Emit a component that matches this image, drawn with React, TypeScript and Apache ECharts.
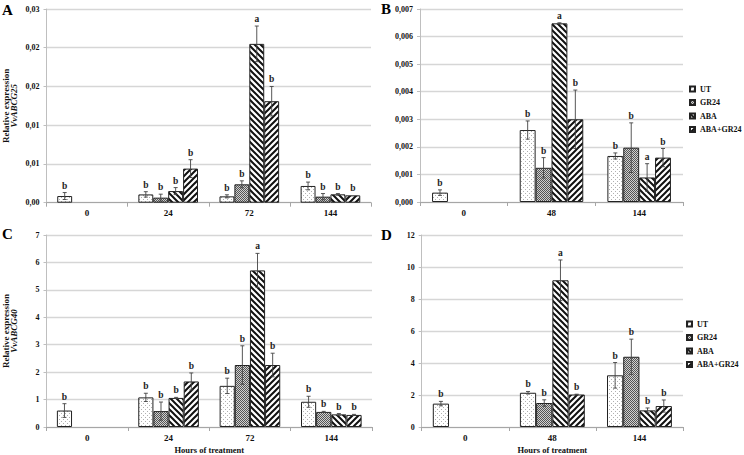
import React, { useEffect, useRef } from 'react';
import * as echarts from 'echarts';

const FONT = '"Liberation Serif", "Times New Roman", serif';
const SERIES_NAMES = ['UT', 'GR24', 'ABA', 'ABA+GR24'];

// Panel A: VvABCG25, 0/24/72/144 h
const A_CATS = ['0', '24', '72', '144'];
const A_TICKS = ['0,00', '0,01', '0,01', '0,02', '0,02', '0,03'];
const A_UT = [0.00086, 0.00107, 0.00082, 0.00216];
const A_GR24 = [null, 0.00065, 0.00237, 0.00078];
const A_ABA = [null, 0.0015, 0.0205, 0.00108];
const A_ABAGR = [null, 0.0044, 0.0131, 0.00095];
const A_UT_ERR = [0.00045, 0.00035, 0.0002, 0.0005];
const A_GR24_ERR = [0, 0.00045, 0.00045, 0.0004];
const A_ABA_ERR = [0, 0.00045, 0.0023, 0.0001];
const A_ABAGR_ERR = [0, 0.00115, 0.0019, 0];
const A_UT_SIG = ['b', 'b', 'b', 'b'];
const A_GR24_SIG = ['', 'b', 'b', 'b'];
const A_ABA_SIG = ['', 'b', 'a', 'b'];
const A_ABAGR_SIG = ['', 'b', 'b', 'b'];

// Panel B: 0/48/144 h
const B_CATS = ['0', '48', '144'];
const B_TICKS = ['0,000', '0,001', '0,002', '0,003', '0,004', '0,005', '0,006', '0,007'];
const B_UT = [0.00034, 0.00261, 0.00167];
const B_GR24 = [null, 0.00124, 0.00197];
const B_ABA = [null, 0.00648, 0.00089];
const B_ABAGR = [null, 0.003, 0.00161];
const B_UT_ERR = [0.0001, 0.00033, 0.00011];
const B_GR24_ERR = [0, 0.00037, 0.0009];
const B_ABA_ERR = [0, 0.00002, 0.0005];
const B_ABAGR_ERR = [0, 0.00106, 0.00033];
const B_UT_SIG = ['b', 'b', 'b'];
const B_GR24_SIG = ['', 'b', 'b'];
const B_ABA_SIG = ['', 'a', 'a'];
const B_ABAGR_SIG = ['', 'b', 'b'];

// Panel C: VvABCG40, 0/24/72/144 h
const C_CATS = ['0', '24', '72', '144'];
const C_TICKS = ['0', '1', '2', '3', '4', '5', '6', '7'];
const C_UT = [0.6, 1.08, 1.5, 0.92];
const C_GR24 = [null, 0.58, 2.26, 0.55];
const C_ABA = [null, 1.06, 5.71, 0.46];
const C_ABAGR = [null, 1.66, 2.26, 0.44];
const C_UT_ERR = [0.25, 0.15, 0.28, 0.2];
const C_GR24_ERR = [0, 0.33, 0.7, 0.02];
const C_ABA_ERR = [0, 0.02, 0.62, 0.03];
const C_ABAGR_ERR = [0, 0.31, 0.43, 0.02];
const C_UT_SIG = ['b', 'b', 'b', 'b'];
const C_GR24_SIG = ['', 'b', 'b', 'b'];
const C_ABA_SIG = ['', 'b', 'a', 'b'];
const C_ABAGR_SIG = ['', 'b', 'b', 'b'];

// Panel D: 0/48/144 h
const D_CATS = ['0', '48', '144'];
const D_TICKS = ['0', '2', '4', '6', '8', '10', '12'];
const D_UT = [1.46, 2.14, 3.23];
const D_GR24 = [null, 1.5, 4.39];
const D_ABA = [null, 9.17, 1.04];
const D_ABAGR = [null, 2.03, 1.31];
const D_UT_ERR = [0.14, 0.08, 0.8];
const D_GR24_ERR = [0, 0.2, 1.1];
const D_ABA_ERR = [0, 1.27, 0.15];
const D_ABAGR_ERR = [0, 0.02, 0.38];
const D_UT_SIG = ['b', 'b', 'b'];
const D_GR24_SIG = ['', 'b', 'b'];
const D_ABA_SIG = ['', 'a', 'b'];
const D_ABAGR_SIG = ['', 'b', 'b'];

function makeTile(kind: string): string {
  const c = document.createElement('canvas');
  const size = kind === 'dots' ? 4 : kind === 'checker' ? 2 : 6;
  c.width = size;
  c.height = size;
  const ctx = c.getContext('2d')!;
  if (kind === 'dots') {
    ctx.fillStyle = '#ffffff';
    ctx.fillRect(0, 0, 4, 4);
    ctx.fillStyle = '#b0b0b0';
    ctx.fillRect(1, 1, 1, 1);
    ctx.fillRect(3, 3, 1, 1);
  } else if (kind === 'checker') {
    ctx.fillStyle = '#d0d0d0';
    ctx.fillRect(0, 0, 2, 2);
    ctx.fillStyle = '#555555';
    ctx.fillRect(0, 0, 1, 1);
    ctx.fillRect(1, 1, 1, 1);
  } else {
    ctx.fillStyle = '#ffffff';
    ctx.fillRect(0, 0, 6, 6);
    ctx.strokeStyle = '#111111';
    ctx.lineWidth = 2;
    ctx.beginPath();
    const back = kind === 'back';
    for (let k = -1; k <= 1; k++) {
      if (back) {
        ctx.moveTo(k * 6 - 1, -1);
        ctx.lineTo(k * 6 + 7, 7);
      } else {
        ctx.moveTo(k * 6 - 1, 7);
        ctx.lineTo(k * 6 + 7, -1);
      }
    }
    ctx.stroke();
  }
  return c.toDataURL();
}

type Panel = {
  cats: string[];
  ticks: string[];
  max: number;
  interval: number;
  vals: (number | null)[][];
  errs: number[][];
  sigs: string[][];
  grid: { left: number; top: number; width: number; height: number };
  gap: string;
  gapFrac: number;
  yName?: string;
  xName?: string;
};

const PANELS: Panel[] = [
  {
    cats: A_CATS, ticks: A_TICKS, max: 0.025, interval: 0.005,
    vals: [A_UT, A_GR24, A_ABA, A_ABAGR],
    errs: [A_UT_ERR, A_GR24_ERR, A_ABA_ERR, A_ABAGR_ERR],
    sigs: [A_UT_SIG, A_GR24_SIG, A_ABA_SIG, A_ABAGR_SIG],
    grid: { left: 45, top: 9, width: 326, height: 193.7 },
    gap: '26.5%', gapFrac: 0.265, yName: 'VvABCG25',
  },
  {
    cats: B_CATS, ticks: B_TICKS, max: 0.007, interval: 0.001,
    vals: [B_UT, B_GR24, B_ABA, B_ABAGR],
    errs: [B_UT_ERR, B_GR24_ERR, B_ABA_ERR, B_ABAGR_ERR],
    sigs: [B_UT_SIG, B_GR24_SIG, B_ABA_SIG, B_ABAGR_SIG],
    grid: { left: 420, top: 9, width: 263, height: 193 },
    gap: '27.5%', gapFrac: 0.275,
  },
  {
    cats: C_CATS, ticks: C_TICKS, max: 7, interval: 1,
    vals: [C_UT, C_GR24, C_ABA, C_ABAGR],
    errs: [C_UT_ERR, C_GR24_ERR, C_ABA_ERR, C_ABAGR_ERR],
    sigs: [C_UT_SIG, C_GR24_SIG, C_ABA_SIG, C_ABAGR_SIG],
    grid: { left: 46, top: 235, width: 326, height: 192.3 },
    gap: '25.5%', gapFrac: 0.255, yName: 'VvABCG40', xName: 'Hours of treatment',
  },
  {
    cats: D_CATS, ticks: D_TICKS, max: 12, interval: 2,
    vals: [D_UT, D_GR24, D_ABA, D_ABAGR],
    errs: [D_UT_ERR, D_GR24_ERR, D_ABA_ERR, D_ABAGR_ERR],
    sigs: [D_UT_SIG, D_GR24_SIG, D_ABA_SIG, D_ABAGR_SIG],
    grid: { left: 421.7, top: 235, width: 261.3, height: 192.3 },
    gap: '25.5%', gapFrac: 0.255, xName: 'Hours of treatment',
  },
];

export default function App() {
  const ref = useRef<HTMLDivElement>(null);
  useEffect(() => {
    if (!ref.current) return;
    const chart = echarts.init(ref.current, undefined, { renderer: 'svg' });
    const tiles = [makeTile('dots'), makeTile('checker'), makeTile('back'), makeTile('fwd')];
    const tileSizes = [4, 2, 6, 6];
    const patterns = tiles.map((t, i) => ({
      image: t,
      repeat: 'repeat',
      imageWidth: tileSizes[i],
      imageHeight: tileSizes[i],
    }));

    const grids: any[] = [];
    const xAxes: any[] = [];
    const yAxes: any[] = [];
    const series: any[] = [];

    PANELS.forEach((p, pi) => {
      grids.push({ ...p.grid, containLabel: false });
      xAxes.push({
        type: 'category',
        gridIndex: pi,
        data: p.cats,
        axisLine: { lineStyle: { color: '#a6a6a6', width: 1 } },
        axisTick: { show: true, length: 4, alignWithLabel: false, lineStyle: { color: '#a6a6a6' } },
        axisLabel: { fontFamily: FONT, fontWeight: 'bold', fontSize: 9, color: '#111', margin: 6 },
        name: p.xName || '',
        nameLocation: 'middle',
        nameGap: 18,
        nameTextStyle: { fontFamily: FONT, fontWeight: 'bold', fontSize: 8.5, color: '#111' },
      });
      yAxes.push({
        type: 'value',
        gridIndex: pi,
        min: 0,
        max: p.max,
        interval: p.interval,
        axisLine: { show: true, lineStyle: { color: '#bfbfbf', width: 1 } },
        axisTick: { show: true, length: 3, lineStyle: { color: '#bfbfbf' } },
        splitLine: { lineStyle: { color: '#d6d6d6', width: 1.4 } },
        axisLabel: {
          fontFamily: FONT, fontWeight: 'bold', fontSize: 8, color: '#111', margin: 7,
          formatter: (v: number) => p.ticks[Math.round(v / p.interval)] ?? '',
        },
        name: p.yName ? `{a|Relative expression}\n{b|${p.yName}}` : '',
        nameLocation: 'middle',
        nameRotate: 90,
        nameGap: 29,
        nameTextStyle: {
          rich: {
            a: { fontFamily: FONT, fontWeight: 'bold', fontSize: 9, color: '#111', lineHeight: 8 },
            b: { fontFamily: FONT, fontWeight: 'bold', fontStyle: 'italic', fontSize: 9, color: '#111', lineHeight: 8 },
          },
        },
      });
      p.vals.forEach((vals, si) => {
        series.push({
          type: 'bar',
          name: SERIES_NAMES[si],
          xAxisIndex: pi,
          yAxisIndex: pi,
          data: vals.map((v) => (v == null ? '-' : v)),
          barGap: '0%',
          barCategoryGap: p.gap,
          itemStyle: { color: patterns[si], borderColor: '#222', borderWidth: 1 },
          emphasis: { disabled: true },
        });
      });
      const edata: any[] = [];
      p.vals.forEach((vals, si) =>
        vals.forEach((v, ci) => {
          if (v != null) edata.push([ci, si, v, p.errs[si][ci], p.sigs[si][ci]]);
        })
      );
      series.push({
        type: 'custom',
        xAxisIndex: pi,
        yAxisIndex: pi,
        z: 10,
        silent: true,
        data: edata.map((d) => [d[0], d[1], d[2], d[3]]),
        encode: { x: 0, y: 2 },
        renderItem: (params: any, api: any) => {
          const d = edata[params.dataIndex];
          const c = d[0], s = d[1], v = d[2], e = d[3], sig = d[4];
          const center = api.coord([c, 0]);
          const band = api.size([1, 0])[0];
          const group = band * (1 - p.gapFrac);
          const bw = group / 4;
          const x = center[0] - group / 2 + (s + 0.5) * bw;
          const top = api.coord([c, v + e])[1];
          const bot = api.coord([c, Math.max(0, v - e)])[1];
          const ls = { stroke: '#444', lineWidth: 0.9 };
          const children: any[] = [];
          if (e > 0) {
            children.push({ type: 'line', shape: { x1: x, y1: top, x2: x, y2: bot }, style: ls });
            children.push({ type: 'line', shape: { x1: x - 2, y1: top, x2: x + 2, y2: top }, style: ls });
            children.push({ type: 'line', shape: { x1: x - 2, y1: bot, x2: x + 2, y2: bot }, style: ls });
          }
          children.push({
            type: 'text',
            x,
            y: top - 2,
            style: {
              text: sig,
              align: 'center',
              verticalAlign: 'bottom',
              font: `bold 9.5px ${FONT}`,
              fill: '#222',
            },
          });
          return { type: 'group', children };
        },
      });
    });

    const legendCommon = {
      data: SERIES_NAMES,
      orient: 'vertical',
      icon: 'rect',
      itemWidth: 5,
      itemHeight: 5,
      itemGap: 5.5,
      selectedMode: false,
      padding: 0,
      textStyle: { fontFamily: FONT, fontWeight: 'bold', fontSize: 8, color: '#111' },
    };

    const panelLetter = (t: string, x: number, y: number) => ({
      type: 'text',
      left: x,
      top: y,
      style: { text: t, font: `bold 15px ${FONT}`, fill: '#000' },
    });

    chart.setOption({
      animation: false,
      backgroundColor: '#ffffff',
      grid: grids,
      xAxis: xAxes,
      yAxis: yAxes,
      series,
      legend: [
        { ...legendCommon, left: 689, top: 85 },
        { ...legendCommon, left: 686, top: 320 },
      ],
      graphic: [
        panelLetter('A', 2, 2),
        panelLetter('B', 381, 1),
        panelLetter('C', 2, 226),
        panelLetter('D', 381, 227),
      ],
    });
    return () => chart.dispose();
  }, []);
  return (
    <div
      ref={ref}
      style={{ position: 'absolute', left: 0, top: 0, width: 744, height: 455, background: '#fff' }}
    />
  );
}
